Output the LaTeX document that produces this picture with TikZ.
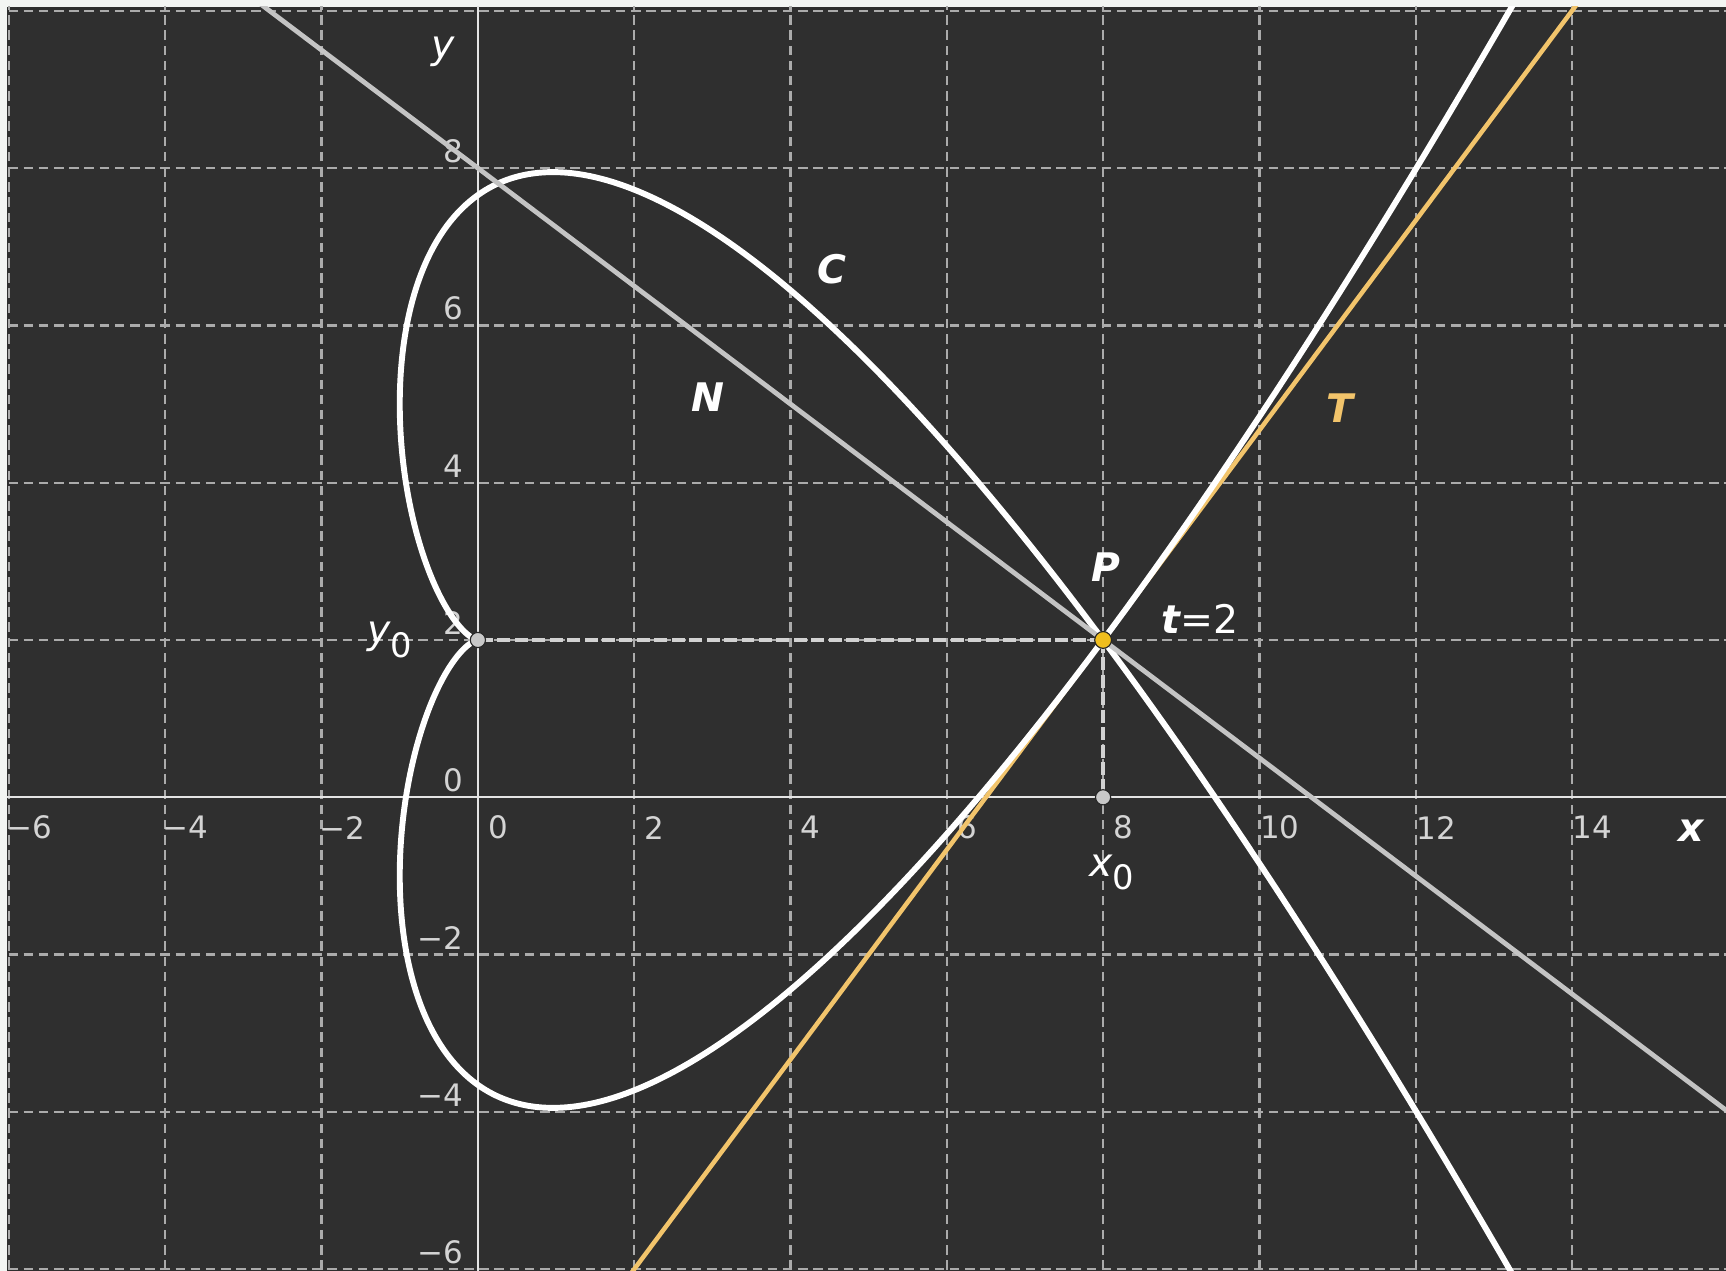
\documentclass[tikz,border=0pt]{standalone}
\usepackage{fontspec}
\setmainfont{DejaVu Sans}
\definecolor{bgc}{HTML}{2F2F2F}
\definecolor{marginc}{HTML}{F3F5F3}
\definecolor{gridc}{HTML}{ABABAB}
\definecolor{axisc}{HTML}{E4E4E4}
\definecolor{tickc}{HTML}{D4D4D4}
\definecolor{normc}{HTML}{C4C4C4}
\definecolor{tanc}{HTML}{F2C46B}
\definecolor{ptc}{HTML}{F0BE1E}
\definecolor{ptg}{HTML}{C8C8C8}
\definecolor{dashc}{HTML}{D2D2D2}
\begin{document}
\begin{tikzpicture}[x=0.976875cm, y=0.983125cm,
  gridline/.style={draw=gridc, line width=0.8pt, dash pattern=on 3.4pt off 2pt},
  axisline/.style={draw=axisc, line width=0.8pt},
  ticklab/.style={text=tickc, font=\fontsize{11}{13}\selectfont, inner sep=0pt},
  curvestyle/.style={draw=white, line width=2.1pt, line cap=round, line join=round},
  normstyle/.style={draw=normc, line width=1.7pt},
  tanstyle/.style={draw=tanc, line width=1.6pt},
  projdash/.style={draw=dashc, line width=1.6pt, dash pattern=on 4.6pt off 1.6pt},
  ptgray/.style={circle, fill=ptg, draw=black!85, line width=0.4pt, inner sep=0pt, minimum size=0.19cm},
  ptyellow/.style={circle, fill=ptc, draw=black!85, line width=0.4pt, inner sep=0pt, minimum size=0.21cm},
  lab/.style={text=white, font=\fontsize{14}{16}\selectfont\bfseries\itshape, inner sep=0pt},
  labthin/.style={text=white, font=\fontsize{14}{16}\selectfont, inner sep=0pt}]
\useasboundingbox (-6.11516,-6.02289) rectangle (15.9706,10.1373);
\fill[marginc] (-6.11516,-6.02289) rectangle (15.9706,10.1373);
\fill[bgc] (-6.0256,-6.02289) rectangle (15.9706,10.0483);
\begin{scope}
\clip (-6.0256,-6.02289) rectangle (15.9706,10.0483);
% grid
\foreach \gx in {-6,-4,-2,2,4,6,8,10,12,14}
  \draw[gridline] (\gx,-6.2) -- (\gx,10.3);
\foreach \gy in {-6,-4,-2,2,4,6,8,10}
  \draw[gridline] (-6.2,\gy) -- (16.1,\gy);
% axes
\draw[axisline] (-6.2,0) -- (16.1,0);
\draw[axisline] (0,-6.2) -- (0,10.3);
% tick labels
\foreach \v/\l [count=\i] in {-6/−6,-4/−4,-2/−2,0/0,2/2,4/4,6/6,8/8,10/10,12/12,14/14}
  \node[ticklab] (xt\i) at ({\v+0.26},-0.385) {\l};
\foreach \v/\l [count=\i] in {-6/−6,-4/−4,-2/−2,0/0,2/2,4/4,6/6,8/8}
  \node[ticklab, anchor=east] (yt\i) at (-0.185,{\v+0.215}) {\l};
% key coordinates
\coordinate (Pc) at (8,2);
\coordinate (Y0c) at (0,2);
\coordinate (X0c) at (8,0);
\coordinate (Ta) at (1.5,-6.66667);
\coordinate (Tb) at (14.6,10.8);
\coordinate (Na) at (-4,11);
\coordinate (Nb) at (17,-4.75);
% tangent
\draw[tanstyle] (Ta) -- (Tb);
% curve C
\draw[curvestyle] plot[domain=-2.21:2.21, samples=601]
  ({\x*\x*\x*\x-2*\x*\x},{\x*\x*\x*\x*\x-4*\x*\x*\x+2});
% normal
\draw[normstyle] (Na) -- (Nb);
% projections
\draw[projdash] (Pc) -- (Y0c);
\draw[projdash] (Pc) -- (X0c);
% points
\node[ptgray] (Y0) at (Y0c) {};
\node[ptgray] (X0) at (X0c) {};
\node[ptyellow] (P) at (Pc) {};
\end{scope}
% labels
\node[lab] (xlab) at (15.52,-0.43) {x};
\node[labthin] (ylab) at (-0.44,9.48) {\itshape y};
\node[lab] (Clab) at (4.53,6.71) {C};
\node[lab] (Nlab) at (2.94,5.09) {N};
\node[lab, text=tanc] (Tlab) at (11.03,4.95) {T};
\node[lab] (Plab) at (8.04,2.93) {P};
\node[labthin] (tlab) at (9.24,2.27) {{\bfseries\itshape t}=2};
\node[labthin, anchor=base west] (x0lab) at (7.82,-1.01) {{\itshape x}\raisebox{-4.7pt}{\fontsize{12}{13}\selectfont 0}};
\node[labthin, anchor=base west] (y0lab) at (-1.42,1.957) {{\itshape y}\raisebox{-5pt}{\fontsize{12}{13}\selectfont 0}};
\end{tikzpicture}
\end{document}
